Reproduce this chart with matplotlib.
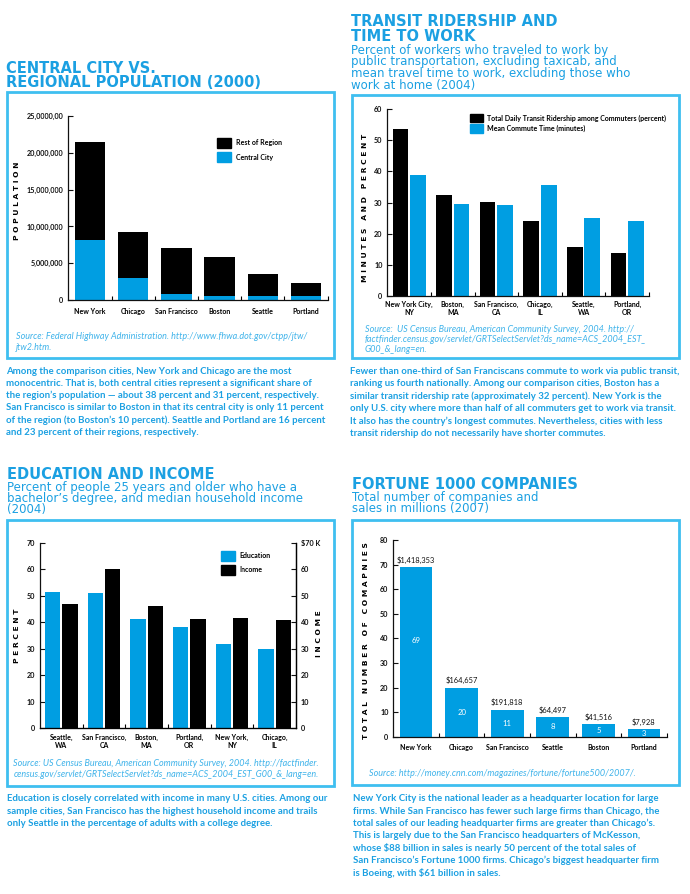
import matplotlib
matplotlib.use('Agg')
import matplotlib.pyplot as plt
from matplotlib.patches import Rectangle, Patch
import numpy as np

plt.rcParams['text.parse_math'] = False
plt.rcParams['font.family'] = ['Lato', 'DejaVu Sans']
plt.rcParams['font.weight'] = 'bold'
plt.rcParams['font.size'] = 5.0

# ---------------- data ----------------
pop_cities = ["New York", "Chicago", "San Francisco", "Boston", "Seattle", "Portland"]
pop_central = [8.1e6, 2.95e6, 0.8e6, 0.59e6, 0.56e6, 0.53e6]
pop_total = [21.4e6, 9.3e6, 7.1e6, 5.9e6, 3.6e6, 2.3e6]
pop_yticks = [0, 5e6, 10e6, 15e6, 20e6, 25e6]
pop_yticklabels = ["0", "5,000,000", "10,000,000", "15,000,000", "20,000,000", "25,0000,00"]

transit_cities = ["New York City,\nNY", "Boston,\nMA", "San Francisco,\nCA",
                  "Chicago,\nIL", "Seattle,\nWA", "Portland,\nOR"]
ridership = [53.7, 32.3, 30.1, 24.1, 15.7, 13.8]
commute = [38.9, 29.5, 29.2, 35.5, 25.0, 24.0]

edu_cities = ["Seattle,\nWA", "San Francisco,\nCA", "Boston,\nMA",
              "Portland,\nOR", "New York,\nNY", "Chicago,\nIL"]
education = [51.5, 51.2, 41.1, 38.1, 31.7, 29.8]
income = [46.8, 60.0, 46.2, 41.4, 41.7, 40.9]
income_ticklabels = ["0", "10", "20", "30", "40", "50", "60", "$70 K"]

f_cities = ["New York", "Chicago", "San Francisco", "Seattle", "Boston", "Portland"]
companies = [69, 20, 11, 8, 5, 3]
sales = [1418353, 164657, 191818, 64497, 41516, 7928]

# ---------------- style ----------------
W, H = 690, 894
BLUE = '#009ee2'
TXT = '#1ba0e2'
BOX = '#3fbff0'
SRC = '#3fb3ea'

fig = plt.figure(figsize=(W / 100, H / 100), dpi=100)
fig.patch.set_facecolor('white')


def ax_at(l, t, r, b):
    return fig.add_axes([l / W, 1 - b / H, (r - l) / W, (b - t) / H])


def ftext(x, y, s, **kw):
    return fig.text(x / W, 1 - y / H, s, **kw)


def box(l, t, r, b):
    fig.patches.append(Rectangle((l / W, 1 - b / H), (r - l) / W, (b - t) / H,
                                 transform=fig.transFigure, fill=False,
                                 ec=BOX, lw=2.0))


TITLE = dict(family='DejaVu Sans', weight='bold', size=10.5, color=TXT, va='baseline')
SUB = dict(family='DejaVu Sans', weight='normal', size=8.5, color=TXT, va='baseline')
BODY = dict(family='Lato', weight='bold', size=6.9, color=TXT, va='center')
SRCK = dict(family='Lato', weight='normal', style='italic', size=6.5, color=SRC, va='center')
YLAB = dict(family='DejaVu Sans', weight='bold', size=5.4, color='black',
            rotation=90, ha='center', va='center')


def lines(x, ys, texts, **kw):
    for y, s in zip(ys, texts):
        ftext(x, y, s, **kw)


def style(ax, right=False, xpad=5):
    ax.spines['top'].set_visible(False)
    if not right:
        ax.spines['right'].set_visible(False)
    for s in ax.spines.values():
        s.set_linewidth(0.9)
        s.set_color('#111111')
    ax.tick_params(axis='y', direction='in', length=3.5, width=0.8, pad=3.5,
                   labelsize=5.2, colors='#111111')
    ax.tick_params(axis='x', which='major', length=0, pad=xpad, labelsize=5.0)
    ax.tick_params(axis='x', which='minor', direction='in', length=3, width=0.8)
    ax.set_facecolor('none')


def legend(ax, handles, x, y, hl, hh, ls, tp):
    ax.legend(handles=handles, loc='upper left', bbox_to_anchor=(x / W, 1 - y / H),
              bbox_transform=fig.transFigure, frameon=False, borderpad=0,
              borderaxespad=0, handlelength=hl, handleheight=hh,
              labelspacing=ls, handletextpad=tp, fontsize=5.0)


# ================= Panel 1 =================
lines(6, [73.3, 86.7], ["CENTRAL CITY VS.", "REGIONAL POPULATION (2000)"], **TITLE)
box(7, 92.5, 334, 358)
ax1 = ax_at(68.3, 116, 327.7, 300)
x = np.arange(len(pop_cities))
rest = [t - c for t, c in zip(pop_total, pop_central)]
ax1.bar(x, pop_central, width=0.71, color=BLUE, zorder=2)
ax1.bar(x, rest, bottom=pop_central, width=0.71, color='black', zorder=2)
ax1.set_xlim(-0.5, 5.5)
ax1.set_ylim(0, 25e6)
ax1.set_yticks(pop_yticks, pop_yticklabels)
ax1.set_xticks(x, pop_cities)
ax1.set_xticks(np.arange(0.5, 6, 1), minor=True)
style(ax1, xpad=5.5)
legend(ax1, [Patch(color='black', label='Rest of Region'),
             Patch(color=BLUE, label='Central City')],
       216.7, 137.7, 2.1, 1.8, 0.7, 0.7)
ftext(16.7, 201, "P O P U L A T I O N", **YLAB)
lines(16, [336.7, 347.3],
      ["Source: Federal Highway Administration. http://www.fhwa.dot.gov/ctpp/jtw/",
       "jtw2.htm."], **SRCK)
lines(6, [371, 383.3, 395.7, 408, 420.3, 432.7],
      ["Among the comparison cities, New York and Chicago are the most",
       "monocentric. That is, both central cities represent a significant share of",
       "the region\u2019s population \u2014 about 38 percent and 31 percent, respectively.",
       "San Francisco is similar to Boston in that its central city is only 11 percent",
       "of the region (to Boston\u2019s 10 percent). Seattle and Portland are 16 percent",
       "and 23 percent of their regions, respectively."], **BODY)

# ================= Panel 2 =================
lines(351, [26, 40.7], ["TRANSIT RIDERSHIP AND", "TIME TO WORK"], **TITLE)
lines(351, [53.7, 65.3, 77, 88.7],
      ["Percent of workers who traveled to work by",
       "public transportation, excluding taxicab, and",
       "mean travel time to work, excluding those who",
       "work at home (2004)"], **SUB)
box(352, 94.5, 679, 358)
ax2 = ax_at(387.3, 109, 649, 296)
x = np.arange(len(transit_cities))
ax2.bar(x - 0.2, ridership, width=0.36, color='black', zorder=2)
ax2.bar(x + 0.2, commute, width=0.36, color=BLUE, zorder=2)
ax2.set_xlim(-0.5, 5.5)
ax2.set_ylim(0, 60)
ax2.set_yticks(np.arange(0, 61, 10))
ax2.set_xticks(x, transit_cities)
ax2.set_xticks(np.arange(0.5, 6, 1), minor=True)
style(ax2, xpad=3.5)
for lbl in ax2.get_xticklabels():
    lbl.set_linespacing(1.15)
legend(ax2, [Patch(color='black', label='Total Daily Transit Ridership among Commuters (percent)'),
             Patch(color=BLUE, label='Mean Commute Time (minutes)')],
       470, 114, 1.8, 1.5, 0.25, 0.6)
ftext(365, 208, "M I N U T E S   A N D   P E R C E N T", **YLAB)
lines(365, [329.3, 339.3, 349],
      ["Source:  US Census Bureau, American Community Survey, 2004. http://",
       "factfinder.census.gov/servlet/GRTSelectServlet?ds_name=ACS_2004_EST_",
       "G00_&_lang=en."], **SRCK)
lines(350, [371.7, 383.7, 396, 408.7, 421, 433.3],
      ["Fewer than one-third of San Franciscans commute to work via public transit,",
       "ranking us fourth nationally. Among our comparison cities, Boston has a",
       "similar transit ridership rate (approximately 32 percent). New York is the",
       "only U.S. city where more than half of all commuters get to work via transit.",
       "It also has the country\u2019s longest commutes. Nevertheless, cities with less",
       "transit ridership do not necessarily have shorter commutes."], **BODY)

# ================= Panel 3 =================
lines(7, [479], ["EDUCATION AND INCOME"], **TITLE)
lines(7, [490.7, 502, 513.3],
      ["Percent of people 25 years and older who have a",
       "bachelor\u2019s degree, and median household income",
       "(2004)"], **SUB)
box(7, 520, 334, 786)
ax3 = ax_at(40, 543, 296, 728)
x = np.arange(len(edu_cities))
ax3.bar(x - 0.2, education, width=0.36, color=BLUE, zorder=2)
ax3.set_xlim(-0.5, 5.5)
ax3.set_ylim(0, 70)
ax3.set_yticks(np.arange(0, 71, 10))
ax3.set_xticks(x, edu_cities)
ax3.set_xticks(np.arange(0.5, 5, 1), minor=True)
style(ax3, right=True, xpad=4.5)
for lbl in ax3.get_xticklabels():
    lbl.set_linespacing(1.15)
ax3r = ax3.twinx()
ax3r.bar(x + 0.2, income, width=0.36, color='black', zorder=2)
ax3r.set_ylim(0, 70)
ax3r.set_yticks(np.arange(0, 71, 10), income_ticklabels)
ax3r.spines['top'].set_visible(False)
ax3r.spines['left'].set_visible(False)
ax3r.spines['right'].set_linewidth(0.9)
ax3r.tick_params(axis='y', direction='in', length=3.5, width=0.8, pad=3.5,
                 labelsize=5.2, colors='#111111')
legend(ax3r, [Patch(color=BLUE, label='Education'),
              Patch(color='black', label='Income')],
       220.7, 550.7, 2.1, 1.8, 0.6, 0.6)
ftext(17.3, 636, "P E R C E N T", **YLAB)
ftext(319.3, 634, "I N C O M E", **YLAB)
lines(13.3, [764, 774.5],
      ["Source: US Census Bureau, American Community Survey, 2004. http://factfinder.",
       "census.gov/servlet/GRTSelectServlet?ds_name=ACS_2004_EST_G00_&_lang=en."], **SRCK)
lines(6.7, [798.3, 811, 823.3],
      ["Education is closely correlated with income in many U.S. cities. Among our",
       "sample cities, San Francisco has the highest household income and trails",
       "only Seattle in the percentage of adults with a college degree."], **BODY)

# ================= Panel 4 =================
lines(352, [489], ["FORTUNE 1000 COMPANIES"], **TITLE)
lines(352, [500.7, 512.3],
      ["Total number of companies and", "sales in millions (2007)"], **SUB)
box(352, 520, 679, 785)
ax4 = ax_at(393.3, 540, 666.7, 736.7)
x = np.arange(len(f_cities))
ax4.bar(x, companies, width=0.72, color=BLUE, zorder=2)
ax4.set_xlim(-0.5, 5.5)
ax4.set_ylim(0, 80)
ax4.set_yticks(np.arange(0, 81, 10))
ax4.set_xticks(x, f_cities)
ax4.set_xticks(np.arange(0.5, 6, 1), minor=True)
style(ax4, xpad=5)
for i, (n, s) in enumerate(zip(companies, sales)):
    ax4.annotate(f"${s:,}", (i, n), xytext=(0, 2.5), textcoords='offset points',
                 ha='center', va='bottom', fontsize=5.4, weight='normal',
                 style='normal', family='Lato', color='#111111')
    ax4.text(i, max(n / 2, n - 30), str(n), ha='center', va='center',
             fontsize=5.6, weight='normal', style='normal', family='Lato',
             color='white', zorder=3)
ftext(365.7, 641, "T O T A L   N U M B E R   O F   C O M A P N I E S", **YLAB)
lines(369, [774], ["Source: http://money.cnn.com/magazines/fortune/fortune500/2007/."], **SRCK)
lines(353.3, [798.3, 811, 823.3, 835.7, 848.3, 860.7, 873.3],
      ["New York City is the national leader as a headquarter location for large",
       "firms. While San Francisco has fewer such large firms than Chicago, the",
       "total sales of our leading headquarter firms are greater than Chicago\u2019s.",
       "This is largely due to the San Francisco headquarters of McKesson,",
       "whose $88 billion in sales is nearly 50 percent of the total sales of",
       "San Francisco\u2019s Fortune 1000 firms. Chicago\u2019s biggest headquarter firm",
       "is Boeing, with $61 billion in sales."], **BODY)

fig.savefig('out.png', dpi=100, facecolor='white')
